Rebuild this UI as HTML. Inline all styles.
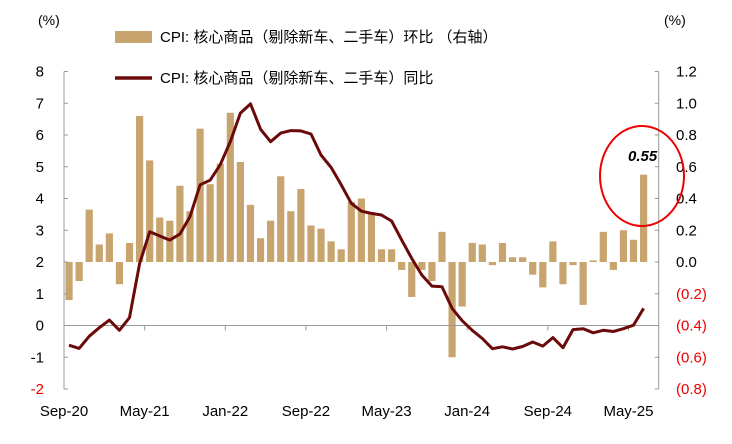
<!DOCTYPE html>
<html><head><meta charset="utf-8"><style>
body{margin:0;background:#fff}
svg{display:block;font-family:"Liberation Sans","Noto Sans CJK SC",sans-serif}
</style></head><body>
<svg id="chart" width="732" height="444" viewBox="0 0 732 444">
<text x="38" y="25" font-size="14" fill="#000">(%)</text>
<text x="664" y="25" font-size="14" fill="#000">(%)</text>
<g>
<rect x="115" y="31" width="37" height="12" fill="#c8a46e"/>
<text x="160" y="42" font-size="15">CPI: 核心商品（剔除新车、二手车）环比 （右轴）</text>
<line x1="115" y1="78" x2="152" y2="78" stroke="#6b0a0a" stroke-width="3.5"/>
<text x="160" y="83" font-size="15">CPI: 核心商品（剔除新车、二手车）同比</text>
</g>
<g id="bars"></g>
<g id="axes"></g>
<path id="line" fill="none" stroke="#6b0a0a" stroke-width="3" stroke-linejoin="round"/>
<ellipse cx="642" cy="176" rx="42" ry="50" fill="none" stroke="#e00" stroke-width="2"/>
<text x="628" y="161" font-size="15" font-weight="bold" font-style="italic">0.55</text>
</svg>
<script>
const categories = ["Sep-20","Oct-20","Nov-20","Dec-20","Jan-21","Feb-21","Mar-21","Apr-21","May-21","Jun-21","Jul-21","Aug-21","Sep-21","Oct-21","Nov-21","Dec-21","Jan-22","Feb-22","Mar-22","Apr-22","May-22","Jun-22","Jul-22","Aug-22","Sep-22","Oct-22","Nov-22","Dec-22","Jan-23","Feb-23","Mar-23","Apr-23","May-23","Jun-23","Jul-23","Aug-23","Sep-23","Oct-23","Nov-23","Dec-23","Jan-24","Feb-24","Mar-24","Apr-24","May-24","Jun-24","Jul-24","Aug-24","Sep-24","Oct-24","Nov-24","Dec-24","Jan-25","Feb-25","Mar-25","Apr-25","May-25","Jun-25"];
const momValues = [-0.24,-0.12,0.33,0.11,0.18,-0.14,0.12,0.92,0.64,0.28,0.26,0.48,0.32,0.84,0.49,0.62,0.94,0.63,0.36,0.15,0.26,0.54,0.32,0.46,0.23,0.21,0.13,0.08,0.38,0.40,0.31,0.08,0.08,-0.05,-0.22,-0.05,-0.12,0.19,-0.60,-0.28,0.12,0.11,-0.02,0.12,0.03,0.03,-0.08,-0.16,0.13,-0.14,-0.02,-0.27,0.01,0.19,-0.05,0.20,0.14,0.55];
const yoyValues = [-0.62,-0.72,-0.34,-0.07,0.17,-0.15,0.25,1.95,2.95,2.82,2.69,2.88,3.43,4.43,4.58,5.06,5.79,6.69,6.98,6.18,5.79,6.06,6.14,6.13,6.03,5.37,4.98,4.43,3.85,3.6,3.53,3.48,3.29,2.69,2.11,1.59,1.24,1.22,0.54,0.15,-0.15,-0.41,-0.73,-0.67,-0.74,-0.66,-0.52,-0.65,-0.38,-0.70,-0.13,-0.10,-0.23,-0.15,-0.19,-0.10,0.01,0.54];
const leftTicks = ["-2","-1","0","1","2","3","4","5","6","7","8"];
const rightTicks = ["(0.8)","(0.6)","(0.4)","(0.2)","0.0","0.2","0.4","0.6","0.8","1.0","1.2"];
const xTickLabels = ["Sep-20","May-21","Jan-22","Sep-22","May-23","Jan-24","Sep-24","May-25"];

const NS="http://www.w3.org/2000/svg";
const X0=64, SLOT=10.08, YTOP=71.5, YBOT=389;
const yL=v=>YBOT-(v+2)*(YBOT-YTOP)/10;
const yR=v=>yL(2+v*5);
const xC=i=>X0+SLOT*(i+0.5);
function mk(tag,attrs,parent){const e=document.createElementNS(NS,tag);for(const k in attrs)e.setAttribute(k,attrs[k]);parent.appendChild(e);return e;}
const bars=document.getElementById('bars');
momValues.forEach((v,i)=>{
  const y0=yR(0), y1=yR(v);
  const r=mk('rect',{x:xC(i)-3.6,y:Math.min(y0,y1),width:7.2,height:Math.abs(y1-y0),fill:'#c8a46e'},bars);
  
  
});
document.getElementById('line').setAttribute('d',yoyValues.map((v,i)=>(i?'L':'M')+xC(i).toFixed(1)+' '+yL(v).toFixed(1)).join(' '));
const ax=document.getElementById('axes');
const XR=X0+SLOT*59;
let e;
e=mk('line',{x1:X0,y1:YTOP,x2:X0,y2:YBOT,stroke:'#999'},ax);

e=mk('line',{x1:XR,y1:YTOP,x2:XR,y2:YBOT,stroke:'#999'},ax);

e=mk('line',{x1:X0,y1:yL(0),x2:XR,y2:yL(0),stroke:'#999'},ax);

leftTicks.forEach((t,i)=>{
  const y=yL(+t);
  mk('line',{x1:X0,y1:y,x2:X0+4,y2:y,stroke:'#999'},ax);
  e=mk('text',{x:44,y:y+5,'font-size':15,'text-anchor':'end',fill:+t<-1?'#e00':'#000'},ax);
  e.textContent=t;
  
});
rightTicks.forEach((t,i)=>{
  const v=-0.8+0.2*i, y=yR(v);
  mk('line',{x1:XR-4,y1:y,x2:XR,y2:y,stroke:'#999'},ax);
  e=mk('text',{x:676,y:y+5,'font-size':15,fill:v<-0.01?'#e00':'#000'},ax);
  e.textContent=t;
  
});
xTickLabels.forEach((t,i)=>{
  const x=X0+SLOT*8*i;
  mk('line',{x1:x,y1:yL(0),x2:x,y2:yL(0)+5,stroke:'#999'},ax);
  e=mk('text',{x:x,y:416,'font-size':15,'text-anchor':'middle'},ax);
  e.textContent=t;
  
});
</script>
</body></html>
